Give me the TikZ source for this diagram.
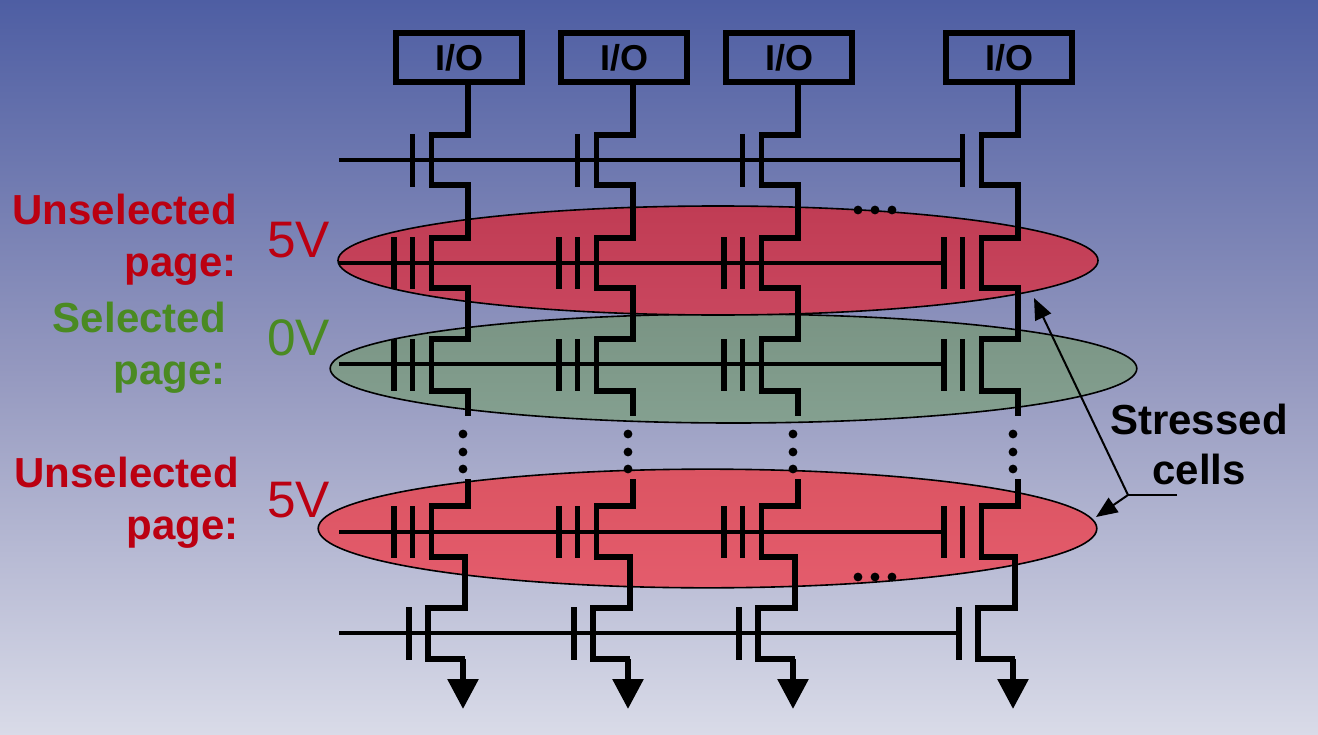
\documentclass[tikz,border=0pt]{standalone}
\usepackage{fontspec}
\setmainfont{Liberation Sans}
\usetikzlibrary{shapes.geometric,arrows.meta}
\definecolor{bg_top}{HTML}{4E5EA3}
\definecolor{bg_middle}{HTML}{9498BF}
\definecolor{bg_bottom}{HTML}{D9DBE8}
\definecolor{green_top}{HTML}{7A9484}
\definecolor{green_bottom}{HTML}{84A090}
\definecolor{red_top}{HTML}{C03C54}
\definecolor{red_bottom}{HTML}{C9465E}
\definecolor{rose_top}{HTML}{DB5462}
\definecolor{rose_bottom}{HTML}{E45C6C}
\definecolor{label_red}{HTML}{BB0011}
\definecolor{label_green}{HTML}{4A8A22}

\begin{document}
\begin{tikzpicture}[x=0.75pt,y=-0.75pt,
		io_style/.style={rectangle,draw=black,line width=4.4pt,minimum width=95pt,minimum height=36.5pt,inner sep=0pt,font=\fontsize{27}{30}\selectfont\bfseries},
		page_style/.style={ellipse,draw=black,line width=1.2pt,inner sep=0pt},
		wire_style/.style={draw=black,line width=4.4pt},
		word_style/.style={draw=black,line width=3.2pt},
		note_style/.style={draw=black,line width=1.5pt},
		tip_style/.style={-{Triangle[length=16pt,width=13pt]}},
		label_style/.style={align=right,anchor=east,inner sep=0pt,font=\fontsize{31.5}{39}\selectfont\bfseries},
		volt_style/.style={anchor=west,inner sep=0pt,font=\fontsize{38.5}{42}\selectfont},
		dot_style/.style={circle,fill=black,inner sep=0pt,minimum size=6.6pt}]

		\useasboundingbox (0,0) rectangle (1318,735);
		\fill[top color=bg_top,bottom color=bg_bottom,middle color=bg_middle] (0,0) rectangle (1318,735);

		% pages
		\node[page_style,minimum width=605pt,minimum height=81.75pt,top color=green_top,bottom color=green_bottom] (page_sel) at (733.5,368.5) {};
		\node[page_style,minimum width=570pt,minimum height=81.75pt,top color=red_top,bottom color=red_bottom] (page_up) at (718,260.5) {};
		\node[page_style,minimum width=584pt,minimum height=89pt,top color=rose_top,bottom color=rose_bottom] (page_low) at (707.5,528.5) {};

		% word lines
		\draw[word_style] (339,160) -- (961,160);
		\draw[word_style] (339,263) -- (944,263);
		\draw[word_style] (339,364) -- (944,364);
		\draw[word_style] (339,532) -- (944,532);
		\draw[word_style] (339,633) -- (959,633);

		% one column of strings per bit line
		\foreach \n/\bx/\dx in {1/459/468,2/624/633,3/789/798,4/1009/1018}{
			\pgfmathsetmacro{\lx}{\dx-36.5}
			\pgfmathsetmacro{\gx}{\dx-55.5}
			\pgfmathsetmacro{\fx}{\dx-74}
			\node[io_style] (io\n) at (\bx,57.5) {I/O};
			\coordinate (top\n) at (\dx,135);
			\coordinate (gnd\n) at (\dx-5,709);

			\draw[wire_style] (top\n |- io\n.south) -- (top\n) -- (\lx,135) -- (\lx,185) -- (\dx,185) -- (\dx,238) -- (\lx,238) -- (\lx,288) -- (\dx,288) -- (\dx,339) -- (\lx,339) -- (\lx,391) -- (\dx,391) -- (\dx,416);
			\draw[wire_style] (\dx,479) -- (\dx,506) -- (\lx,506) -- (\lx,557) -- (\dx,557);
			\draw[wire_style] (\dx-3,557) -- (\dx-3,608) -- (\dx-40,608) -- (\dx-40,659) -- (\dx-3,659);
			\draw[wire_style,-{Triangle[length=22.5pt,width=22.5pt]}] (gnd\n |- 0,659) -- (gnd\n);

			\draw[wire_style] (\gx,134) -- (\gx,187);
			\draw[wire_style] (\dx-59,607) -- (\dx-59,660);
			\foreach \yt/\yb in {237/289,339/391,506/558}{
				\draw[wire_style] (\gx,\yt) -- (\gx,\yb);
				\draw[wire_style] (\fx,\yt) -- (\fx,\yb);
			}
			\foreach \dy in {434,452,469}{
				\node[dot_style] (dot\n\dy) at (\dx-5,\dy) {};
			}
		}

		% dots along the word lines
		\foreach \dx in {858,875,892}{
			\node[dot_style] (dup\dx) at (\dx,210) {};
			\node[dot_style] (dlow\dx) at (\dx,577) {};
		}

		% labels
		\node[label_style,text=label_red] (lab_up) at (237,240) {Unselected\\page:};
		\node[label_style,text=label_green] (lab_sel) at (226,348) {Selected\\page:};
		\node[label_style,text=label_red] (lab_low) at (239,503) {Unselected\\page:};
		\node[volt_style,text=label_red] (v_up) at (267,240) {5V};
		\node[volt_style,text=label_green] (v_sel) at (267,338) {0V};
		\node[volt_style,text=label_red] (v_low) at (267,500) {5V};

		% stressed cells note
		\node[anchor=center,align=center,inner sep=0pt,font=\fontsize{31.5}{38}\selectfont\bfseries] (note) at (1199,444.5) {Stressed\\cells};
		\coordinate (fork) at (1128,495);
		\coordinate (note_end) at (1177,495);
		\coordinate (tip_up) at (1034,298);
		\coordinate (tip_low) at (1096,517);
		\draw[note_style] (note_end) -- (fork);
		\draw[note_style,tip_style] (fork) -- (tip_up);
		\draw[note_style,tip_style] (fork) -- (tip_low);

		\end{tikzpicture}
\end{document}
